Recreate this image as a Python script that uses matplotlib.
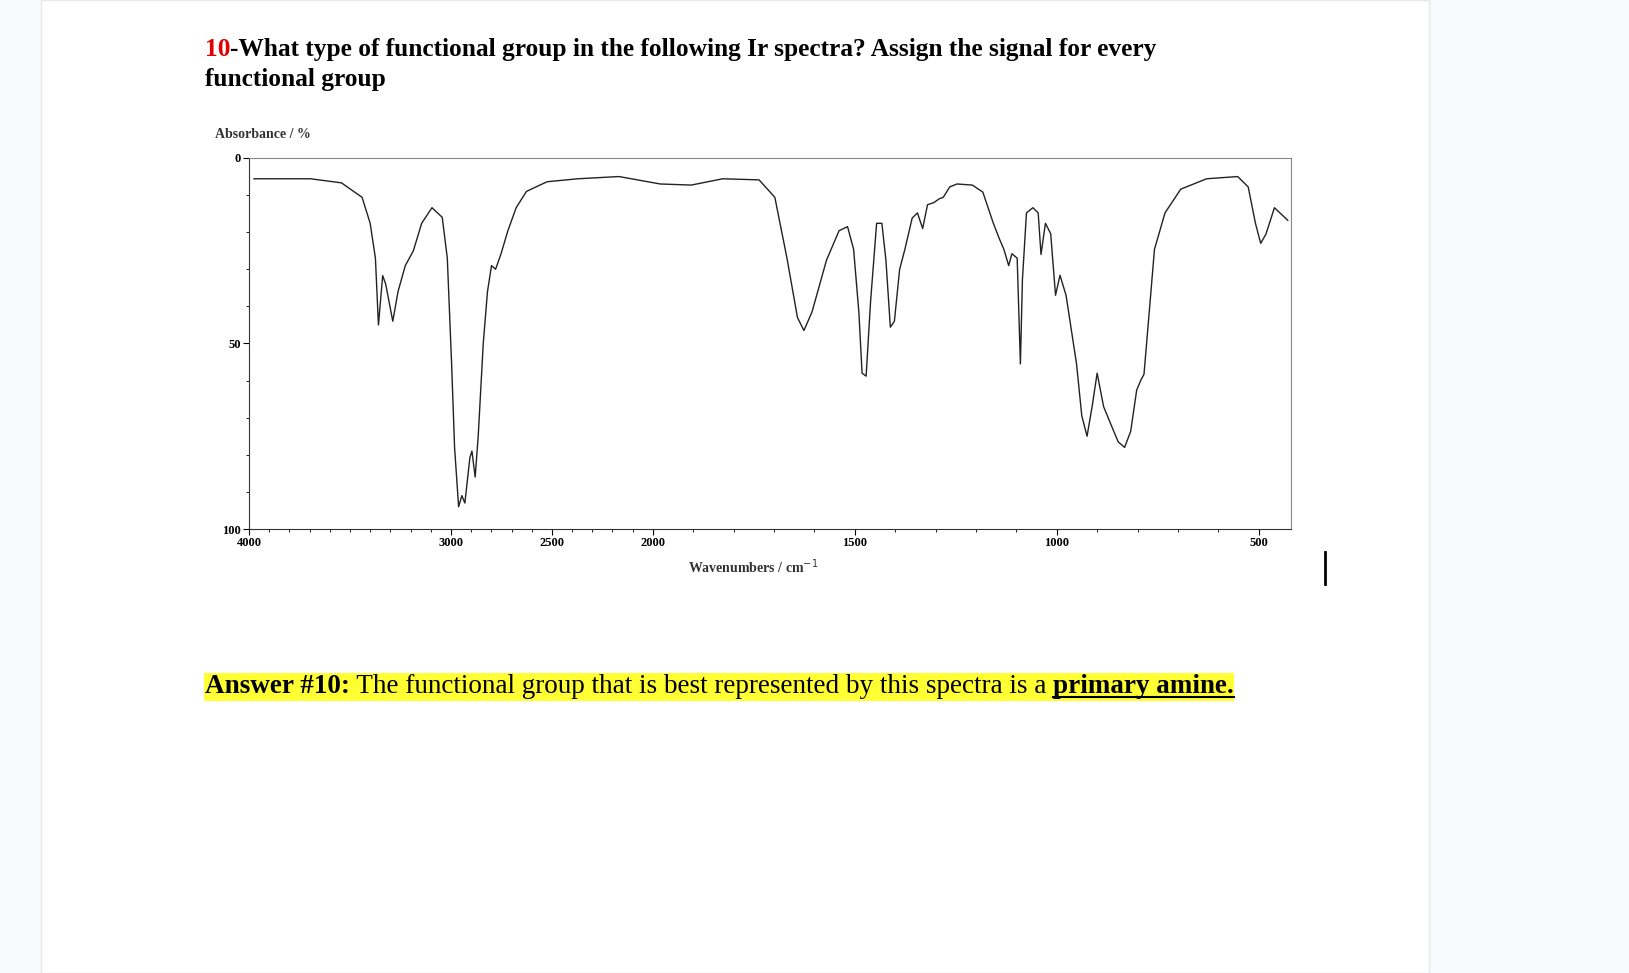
import matplotlib
matplotlib.use("Agg")
import matplotlib.pyplot as plt
import numpy as np
from matplotlib.patches import Rectangle

wavenumber = [3975,3695,3542,3440,3400,3374,3359,3338,3323,3288,3262,3226,3186,3145,3094,3043,3018,2997,2982,2962,2946,2931,2906,2896,2880,2865,2840,2819,2799,2779,2753,2718,2677,2626,2524,2372,2168,1982,1905,1827,1737,1698,1668,1642,1626,1606,1570,1539,1518,1503,1490,1482,1472,1461,1446,1433,1423,1412,1402,1389,1376,1358,1345,1332,1320,1304,1291,1281,1265,1247,1209,1183,1157,1142,1131,1119,1111,1098,1090,1085,1075,1059,1046,1039,1028,1015,1003,992,977,951,938,925,912,900,884,869,848,832,817,802,791,784,771,758,732,693,629,552,526,508,495,482,461,428]
absorbance = [5.6,5.6,6.7,10.6,17.6,27,45,31.7,34,44,36,29,25,17.6,13.4,16,27,55,78,94,91,93,80.7,79,86,75,50,36,29,30,26,19.6,13.4,9,6.4,5.6,5,7,7.3,5.6,5.9,10.6,27,43,46.5,41.5,27.5,19.6,18.5,24.6,41.5,58,58.8,38.7,17.6,17.6,27.5,45.6,44,30,24.6,16.2,14.8,19,12.6,12,11,10.6,7.8,7,7.3,9.2,17.6,21.8,24.6,29,25.8,27,55.5,32.8,14.8,13.4,14.8,26,17.6,20.4,37,31.6,37,55.5,69.5,75,66.7,58,67,71,76.5,78,73.7,62.5,59.7,58.3,41.5,24.6,14.8,8.4,5.6,5,7.8,17.6,23,20.5,13.4,16.8]
x_ticks = [4000,3000,2500,2000,1500,1000,500]
y_ticks = [0,50,100]

def u(w):
    w = np.asarray(w, dtype=float)
    return np.where(w > 2000, 2000 + (w - 2000) / 2, w)

W, H = 1629, 973
fig = plt.figure(figsize=(16.29, 9.73), dpi=100)
fig.patch.set_facecolor("#f8f9fa")
fig.patches.append(Rectangle((41/W, 0), (1429-41)/W, 1, transform=fig.transFigure,
                             facecolor="white", edgecolor="#e6e8eb", lw=1, zorder=-1))
renderer = fig.canvas.get_renderer()
serif = ["Liberation Serif", "DejaVu Serif"]

def seq(parts, x0, y, fs):
    x = x0
    spans = []
    for txt, col, wt in parts:
        t = fig.text(x/W, 1-y/H, txt, color=col, fontsize=fs, fontweight=wt, family=serif, va="baseline")
        bb = t.get_window_extent(renderer)
        spans.append((x, x + bb.width))
        x += bb.width
    return spans

seq([("10", "#e00000", "bold"), ("-What type of functional group in the following Ir spectra? Assign the signal for every", "black", "bold")], 205, 56, 18.3)
seq([("functional group", "black", "bold")], 205, 86, 18.3)

spans = seq([("Answer #10:", "black", "bold"), (" The functional group that is best represented by this spectra is a ", "black", "normal"),
             ("primary amine.", "black", "bold")], 205, 693, 19.5)
fig.patches.append(Rectangle((204/W, 1-701/H), (spans[-1][1]-204)/W, 28/H, transform=fig.transFigure,
                             facecolor="#ffff33", edgecolor="none", zorder=-0.5))
fig.add_artist(plt.Line2D([spans[-1][0]/W, spans[-1][1]/W], [1-697/H, 1-697/H], color="black", lw=1.5, transform=fig.transFigure))
fig.add_artist(plt.Line2D([1325/W, 1325/W], [1-552/H, 1-584/H], color="black", lw=2, transform=fig.transFigure))

ax = fig.add_axes([249/W, 1-529/H, (1291-249)/W, (529-158)/H])
ax.plot(u(wavenumber), absorbance, color="#222222", lw=1.0)
ax.set_xlim(3000, 420)
ax.set_ylim(100, 0)
ax.set_xticks(u(x_ticks))
ax.set_xticklabels([str(t) for t in x_ticks], family=serif, fontweight="bold", fontsize=9)
ax.set_xticks(u(np.arange(4000, 400, -100)), minor=True)
ax.set_yticks(y_ticks)
ax.set_yticklabels([str(t) for t in y_ticks], family=serif, fontweight="bold", fontsize=9)
ax.set_yticks(np.arange(0, 101, 10), minor=True)
ax.tick_params(direction="out", length=4, width=0.8, pad=2)
ax.tick_params(which="minor", length=2.5)
for s in ["top", "right"]:
    ax.spines[s].set_color("#888888")
for s in ["left", "bottom"]:
    ax.spines[s].set_color("#333333")
fig.text(215/W, 1-135/H, "Absorbance / %", family=serif, fontweight="bold", fontsize=10, color="#333333", va="center")
fig.text(753/W, 1-567/H, "Wavenumbers / cm$^{-1}$", family=serif, fontweight="bold", fontsize=10, color="#333333",
         ha="center", va="center")

fig.savefig("out.png", dpi=100, facecolor=fig.get_facecolor())
